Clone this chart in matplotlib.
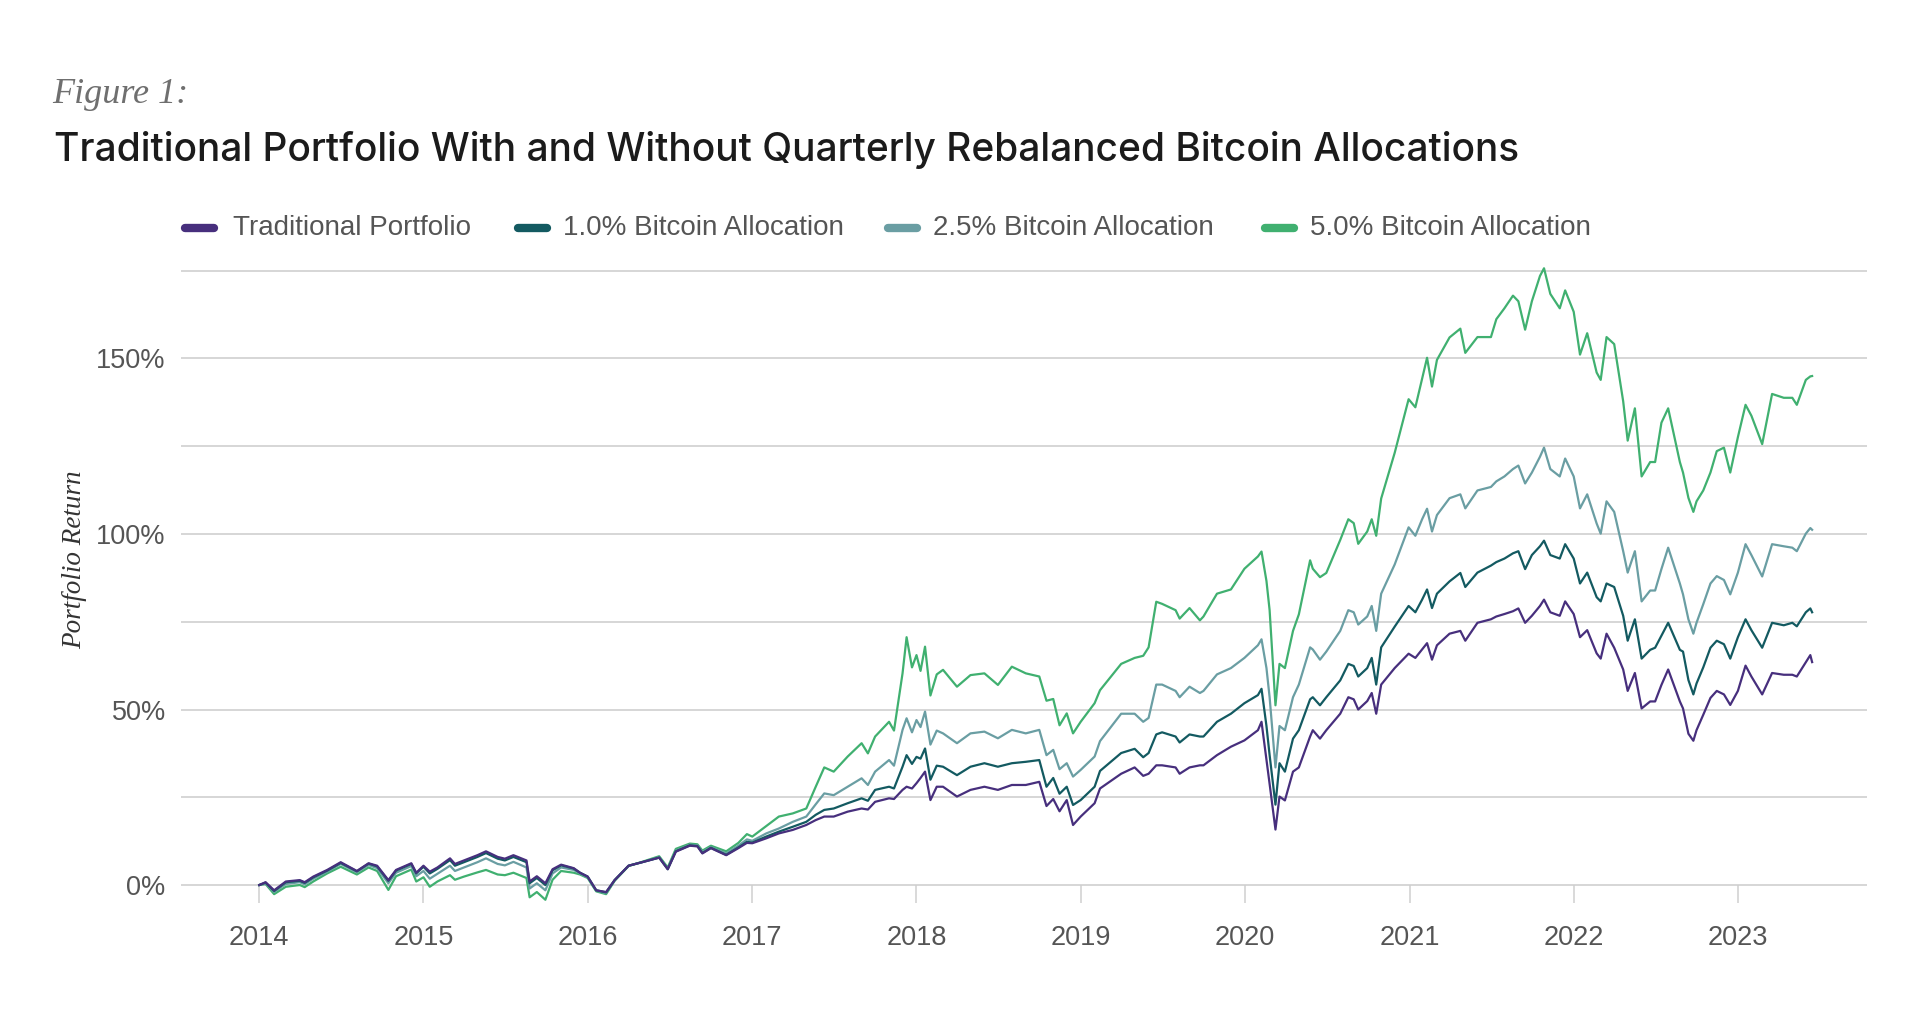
import matplotlib
matplotlib.use("Agg")
import matplotlib.pyplot as plt
from matplotlib.lines import Line2D
import pandas as pd

# ---------------- data ----------------
dates = [
    "2014-01-01", "2014-01-15", "2014-02-03", "2014-03-01", "2014-04-01", "2014-04-12",
    "2014-05-01", "2014-06-01", "2014-07-01", "2014-08-06", "2014-09-01", "2014-09-20",
    "2014-10-15", "2014-11-01", "2014-12-05", "2014-12-16", "2015-01-01", "2015-01-15",
    "2015-02-01", "2015-03-01", "2015-03-12", "2015-04-01", "2015-05-01", "2015-05-20",
    "2015-06-15", "2015-07-01", "2015-07-20", "2015-08-18", "2015-08-25", "2015-09-10",
    "2015-09-29", "2015-10-15", "2015-11-03", "2015-12-01", "2015-12-15", "2016-01-01",
    "2016-01-20", "2016-02-11", "2016-03-01", "2016-04-01", "2016-05-01", "2016-06-08",
    "2016-06-27", "2016-07-15", "2016-08-15", "2016-09-01", "2016-09-12", "2016-10-01",
    "2016-11-04", "2016-12-01", "2016-12-20", "2017-01-01", "2017-02-01", "2017-03-01",
    "2017-04-01", "2017-05-01", "2017-05-22", "2017-06-10", "2017-07-01", "2017-08-01",
    "2017-09-01", "2017-09-15", "2017-10-01", "2017-11-01", "2017-11-12", "2017-12-01",
    "2017-12-10", "2017-12-22", "2018-01-01", "2018-01-10", "2018-01-20", "2018-02-01",
    "2018-02-15", "2018-03-01", "2018-04-01", "2018-05-01", "2018-06-01", "2018-07-01",
    "2018-08-01", "2018-09-01", "2018-10-01", "2018-10-17", "2018-11-01", "2018-11-15",
    "2018-12-01", "2018-12-15", "2019-01-01", "2019-02-01", "2019-02-13", "2019-04-01",
    "2019-05-01", "2019-05-20", "2019-06-01", "2019-06-18", "2019-07-01", "2019-07-31",
    "2019-08-09", "2019-08-31", "2019-09-23", "2019-10-01", "2019-10-31", "2019-12-01",
    "2019-12-31", "2020-01-30", "2020-02-07", "2020-02-18", "2020-02-25", "2020-03-09",
    "2020-03-18", "2020-03-30", "2020-04-17", "2020-04-30", "2020-05-25", "2020-05-31",
    "2020-06-16", "2020-06-30", "2020-07-31", "2020-08-18", "2020-08-30", "2020-09-09",
    "2020-09-29", "2020-10-09", "2020-10-19", "2020-10-30", "2020-11-29", "2020-12-30",
    "2021-01-14", "2021-01-29", "2021-02-09", "2021-02-20", "2021-03-03", "2021-03-31",
    "2021-04-24", "2021-05-05", "2021-06-01", "2021-07-01", "2021-07-13", "2021-07-31",
    "2021-08-19", "2021-08-31", "2021-09-15", "2021-09-30", "2021-10-18", "2021-10-27",
    "2021-11-10", "2021-12-01", "2021-12-13", "2022-01-01", "2022-01-15", "2022-01-31",
    "2022-02-21", "2022-03-02", "2022-03-15", "2022-04-01", "2022-04-21", "2022-05-01",
    "2022-05-17", "2022-06-01", "2022-06-20", "2022-07-01", "2022-07-15", "2022-07-30",
    "2022-08-25", "2022-09-01", "2022-09-13", "2022-09-24", "2022-10-01", "2022-10-16",
    "2022-11-01", "2022-11-15", "2022-12-01", "2022-12-15", "2023-01-01", "2023-01-18",
    "2023-01-31", "2023-02-24", "2023-03-18", "2023-04-13", "2023-05-02", "2023-05-12",
    "2023-06-01", "2023-06-11", "2023-06-15",
]

traditional = [
    0.0, 0.8, -1.5, 1.0, 1.4, 0.8,
    2.4, 4.3, 6.5, 4.0, 6.2, 5.5,
    1.4, 4.3, 6.2, 3.5, 5.5, 3.8,
    5.0, 7.6, 6.0, 7.0, 8.5, 9.6,
    8.0, 7.5, 8.5, 7.0, 1.0, 2.5,
    0.5, 4.5, 5.8, 4.8, 3.5, 2.4,
    -1.5, -2.0, 1.4, 5.5, 6.5, 7.8,
    4.5, 9.5, 11.2, 11.0, 9.0, 10.5,
    8.5, 10.5, 12.0, 11.9, 13.3, 14.7,
    15.7, 17.1, 18.5, 19.5, 19.5, 20.9,
    21.8, 21.5, 23.7, 24.7, 24.5, 27.1,
    28.0, 27.5, 29.0, 30.5, 32.3, 24.2,
    28.0, 28.0, 25.2, 27.1, 28.0, 27.1,
    28.5, 28.5, 29.4, 22.5, 24.5, 21.0,
    24.2, 17.1, 19.5, 23.3, 27.5, 31.7,
    33.5, 31.1, 31.7, 34.1, 34.1, 33.5,
    31.7, 33.5, 34.1, 34.1, 37.0, 39.4,
    41.2, 44.1, 46.5, 35.8, 28.8, 15.8,
    25.2, 24.1, 32.3, 33.5, 42.3, 44.1,
    41.7, 44.1, 48.8, 53.5, 52.9, 50.0,
    52.4, 54.7, 48.8, 57.1, 61.8, 65.9,
    64.7, 67.1, 68.9, 64.2, 68.3, 71.6,
    72.4, 69.6, 74.7, 75.7, 76.5, 77.2,
    78.0, 78.8, 74.7, 76.7, 79.5, 81.3,
    77.7, 76.7, 80.8, 77.2, 70.6, 72.6,
    66.0, 64.5, 71.6, 67.6, 61.4, 55.3,
    60.4, 50.3, 52.3, 52.3, 57.0, 61.4,
    52.3, 50.3, 43.1, 41.1, 44.1, 48.5,
    53.3, 55.3, 54.3, 51.3, 55.3, 62.5,
    59.4, 54.3, 60.4, 59.9, 59.9, 59.4,
    63.5, 65.5, 63.5,
]

btc_1_0 = [
    0.0, 0.7, -1.7, 0.8, 1.2, 0.6,
    2.2, 4.1, 6.3, 3.9, 6.1, 5.3,
    1.2, 4.1, 6.0, 3.3, 5.2, 3.3,
    4.6, 7.1, 5.5, 6.5, 8.0, 9.1,
    7.5, 7.0, 8.0, 6.5, 0.5, 2.0,
    0.0, 4.2, 5.6, 4.7, 3.5, 2.4,
    -1.5, -2.1, 1.4, 5.5, 6.5, 7.8,
    4.5, 9.6, 11.3, 11.1, 9.1, 10.6,
    8.6, 10.7, 12.3, 12.1, 13.8, 15.2,
    16.6, 18.0, 20.0, 21.4, 21.8, 23.3,
    24.7, 24.0, 27.1, 28.0, 27.5, 33.7,
    37.0, 34.5, 36.5, 36.0, 38.9, 30.0,
    34.0, 33.7, 31.3, 33.7, 34.7, 33.7,
    34.7, 35.1, 35.6, 28.0, 30.5, 26.0,
    28.0, 22.8, 24.2, 28.0, 32.5, 37.6,
    38.8, 36.4, 37.6, 42.9, 43.5, 42.3,
    40.6, 42.9, 42.3, 42.3, 46.5, 48.8,
    51.8, 54.1, 55.9, 45.3, 37.0, 22.9,
    34.7, 32.3, 41.7, 44.1, 52.9, 53.5,
    51.2, 53.5, 58.3, 63.0, 62.4, 59.4,
    61.8, 64.7, 57.1, 67.7, 73.6, 79.5,
    77.7, 81.3, 84.2, 78.9, 83.0, 86.5,
    88.9, 84.9, 89.0, 91.0, 92.0, 93.0,
    94.5, 95.1, 90.0, 94.0, 96.5, 98.1,
    94.0, 93.0, 97.1, 93.0, 85.9, 89.0,
    82.0, 80.8, 85.9, 84.9, 76.7, 69.6,
    75.7, 64.5, 67.0, 67.6, 71.0, 74.7,
    67.0, 66.5, 58.4, 54.3, 57.4, 62.0,
    67.6, 69.6, 68.6, 64.5, 70.6, 75.7,
    72.6, 67.6, 74.7, 74.0, 74.7, 73.7,
    77.7, 78.8, 77.7,
]

btc_2_5 = [
    0.0, 0.5, -2.0, 0.3, 0.8, 0.2,
    1.8, 3.8, 6.0, 3.6, 5.7, 4.8,
    0.5, 3.5, 5.4, 2.5, 4.0, 1.8,
    3.2, 5.5, 4.0, 5.0, 6.5, 7.6,
    6.0, 5.6, 6.6, 5.0, -1.0, 0.5,
    -1.5, 3.3, 5.0, 4.3, 3.3, 2.2,
    -1.6, -2.3, 1.4, 5.5, 6.5, 7.9,
    4.7, 9.8, 11.5, 11.3, 9.4, 10.8,
    9.0, 11.2, 13.0, 12.6, 14.7, 16.1,
    18.0, 19.5, 23.0, 26.1, 25.6, 28.0,
    30.4, 28.5, 32.3, 35.6, 34.0, 44.2,
    47.5, 43.5, 47.0, 45.0, 49.4, 40.0,
    44.0, 43.2, 40.4, 43.2, 43.7, 41.8,
    44.2, 43.2, 44.2, 37.0, 38.5, 33.0,
    34.7, 30.9, 32.8, 36.6, 41.0, 48.8,
    48.8, 46.5, 47.6, 57.1, 57.1, 55.3,
    53.5, 56.5, 54.7, 55.3, 60.0, 61.8,
    64.7, 68.3, 70.0, 61.8, 53.5, 33.5,
    45.3, 44.1, 53.5, 57.1, 67.7, 67.1,
    64.2, 66.5, 72.4, 78.3, 77.7, 74.2,
    76.5, 79.5, 72.4, 83.0, 91.3, 101.9,
    99.5, 104.2, 107.2, 100.7, 105.4, 110.2,
    111.3, 107.3, 112.4, 113.4, 115.0, 116.4,
    118.5, 119.5, 114.4, 117.5, 122.0, 124.6,
    118.5, 116.4, 121.5, 116.4, 107.3, 111.3,
    103.0, 100.1, 109.3, 106.3, 95.1, 89.0,
    95.1, 80.8, 83.9, 83.9, 90.0, 96.1,
    85.9, 82.8, 75.7, 71.6, 74.7, 80.0,
    85.9, 88.0, 86.9, 82.8, 89.0, 97.1,
    94.0, 87.9, 97.1, 96.5, 96.1, 95.1,
    100.1, 101.7, 101.2,
]

btc_5_0 = [
    0.0, 0.3, -2.6, -0.5, 0.0, -0.6,
    1.0, 3.3, 5.2, 3.0, 5.0, 4.0,
    -1.4, 2.5, 4.4, 1.0, 2.2, -0.5,
    1.0, 2.8, 1.5, 2.4, 3.6, 4.3,
    3.0, 2.8, 3.5, 2.0, -3.5, -2.0,
    -4.2, 1.5, 4.0, 3.5, 3.0, 2.0,
    -1.8, -2.6, 1.2, 5.4, 6.6, 8.2,
    5.0, 10.3, 11.8, 11.6, 9.8, 11.2,
    9.6, 12.0, 14.5, 13.8, 16.8, 19.5,
    20.4, 21.8, 28.0, 33.5, 32.3, 36.6,
    40.4, 37.5, 42.3, 46.5, 44.0, 60.3,
    70.6, 62.0, 65.5, 61.0, 67.9, 54.0,
    60.0, 61.3, 56.5, 59.8, 60.3, 57.0,
    62.2, 60.3, 59.4, 52.5, 53.0, 45.5,
    48.9, 43.2, 46.5, 51.8, 55.5, 63.0,
    64.7, 65.3, 67.7, 80.7, 80.1, 78.3,
    75.9, 78.9, 75.4, 76.5, 83.0, 84.2,
    90.1, 93.6, 95.0, 86.6, 78.3, 51.2,
    63.0, 61.8, 72.4, 77.1, 92.5, 90.1,
    87.7, 88.9, 98.3, 104.2, 103.1, 97.2,
    100.7, 104.2, 99.5, 110.1, 123.1, 138.4,
    136.1, 144.3, 150.2, 142.0, 149.6, 156.0,
    158.5, 151.6, 156.1, 156.1, 161.2, 164.3,
    167.9, 166.3, 158.2, 166.3, 173.5, 175.7,
    168.4, 164.3, 169.4, 163.3, 151.1, 157.2,
    146.0, 143.9, 156.1, 154.1, 137.8, 126.6,
    135.8, 116.4, 120.5, 120.5, 131.7, 135.8,
    120.5, 117.5, 110.3, 106.3, 109.3, 112.4,
    117.5, 123.6, 124.6, 117.5, 127.6, 136.8,
    133.7, 125.6, 139.9, 138.8, 138.8, 136.8,
    143.9, 144.9, 145.0,
]

series_names = ["Traditional Portfolio", "1.0% Bitcoin Allocation",
                "2.5% Bitcoin Allocation", "5.0% Bitcoin Allocation"]
series_values = [traditional, btc_1_0, btc_2_5, btc_5_0]
series_colors = ["#472f7d", "#135a61", "#6a9ea3", "#40b070"]

y_ticks = [0, 25, 50, 75, 100, 125, 150, 175]
y_labels = ["0%", "", "50%", "", "100%", "", "150%", ""]
x_years = list(range(2014, 2024))

title_pre = "Figure 1:"
title = "Traditional Portfolio With and Without Quarterly Rebalanced Bitcoin Allocations"
y_title = "Portfolio Return"

# ---------------- figure ----------------
W, H = 1920, 1017
fig = plt.figure(figsize=(W / 100, H / 100), dpi=100)
fig.patch.set_facecolor("white")

def fx(px):
    return px / W

def fy(py):
    return 1 - py / H

ax_left, ax_right = 181, 1867
ax_top, ax_bottom = 260.2, 913.1
ax = fig.add_axes([fx(ax_left), fy(ax_bottom), fx(ax_right - ax_left), (ax_bottom - ax_top) / H])

x = pd.to_datetime(dates)
for name, vals, col in zip(series_names[::-1], series_values[::-1], series_colors[::-1]):
    ax.plot(x, vals, color=col, lw=1.6, solid_joinstyle="round", zorder=3, label=name)

ax.set_xlim(pd.Timestamp("2013-07-11"), pd.Timestamp("2023-10-15"))
ax.set_ylim(-8, 178)

ax.set_yticks(y_ticks)
ax.set_yticklabels(y_labels)
ax.yaxis.grid(True, color="#cfcfcf", lw=1.2, zorder=1)
ax.xaxis.grid(False)
ax.tick_params(axis="y", length=0, pad=11, labelsize=19.5, labelcolor="#555555")

ax.set_xticks([pd.Timestamp(f"{y}-01-01") for y in x_years])
ax.set_xticklabels([str(y) for y in x_years])
ax.spines["bottom"].set_position(("data", 0))
for s in ["top", "right", "left", "bottom"]:
    ax.spines[s].set_visible(False)
ax.tick_params(axis="x", direction="out", length=13, width=1.1, color="#cfcfcf",
               pad=16, labelsize=19.5, labelcolor="#555555")
for lab in ax.get_xticklabels() + ax.get_yticklabels():
    lab.set_fontfamily(["Liberation Sans", "DejaVu Sans"])

ax.set_ylabel(y_title, fontfamily=["Liberation Serif", "DejaVu Serif"], fontstyle="italic",
              fontsize=19.5, color="#333333", labelpad=0)
ax.yaxis.set_label_coords(-(ax_left - 87) / (ax_right - ax_left), (ax_bottom - 560) / (ax_bottom - ax_top))

# titles
fig.text(fx(52), fy(103), title_pre, fontfamily=["Liberation Serif", "DejaVu Serif"],
         fontstyle="italic", fontsize=26, color="#6f6f6f", ha="left", va="baseline")
fig.text(fx(54), fy(161), title, fontfamily=["Inter", "DejaVu Sans"], fontweight="medium",
         fontsize=28, color="#1b1b1b", ha="left", va="baseline")

# legend
leg_y = 228
leg_items = [(185, 214, 233), (518, 547, 563), (888, 917, 933), (1265, 1294, 1310)]
for (x0, x1, tx), name, col in zip(leg_items, series_names, series_colors):
    fig.add_artist(Line2D([fx(x0), fx(x1)], [fy(leg_y), fy(leg_y)], transform=fig.transFigure,
                          color=col, lw=6, solid_capstyle="round"))
    fig.text(fx(tx), fy(leg_y), name, fontfamily=["Liberation Sans", "DejaVu Sans"],
             fontsize=20, color="#555555", ha="left", va="center")

fig.savefig("out.png", dpi=100, facecolor="white")
